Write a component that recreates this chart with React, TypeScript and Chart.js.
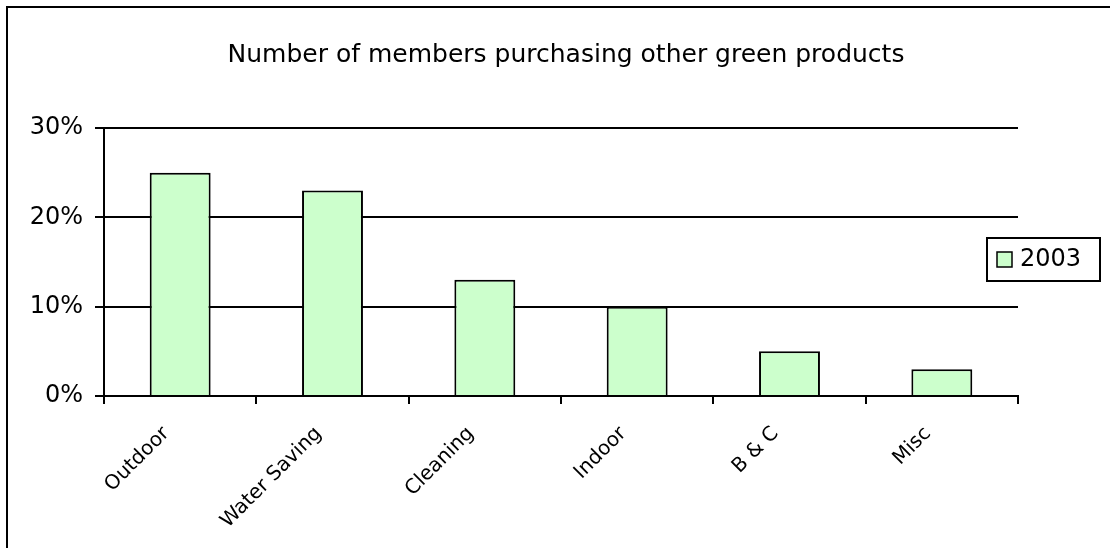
import React, { useEffect, useRef } from "react";
import { Chart, registerables } from "chart.js";

Chart.register(...registerables);

const TITLE = "Number of members purchasing other green products";
const categories = ["Outdoor", "Water Saving", "Cleaning", "Indoor", "B & C", "Misc"];
const seriesName = "2003";
const values = [25, 23, 13, 10, 5, 3];
const yTicks = [0, 10, 20, 30];

const FONT = "'DejaVu Sans', sans-serif";
const FILL = "#CCFFCC";

export default function App() {
  const ref = useRef<HTMLCanvasElement>(null);

  useEffect(() => {
    const canvas = ref.current;
    if (!canvas) return;

    const decor = {
      id: "decor",
      afterDraw(chart: any) {
        const ctx = chart.ctx;
        const ca = chart.chartArea;
        ctx.save();
        // outer frame
        ctx.strokeStyle = "#000";
        ctx.lineWidth = 2;
        ctx.strokeRect(7, 7, 1200, 700);
        // title
        ctx.fillStyle = "#000";
        ctx.font = `25px ${FONT}`;
        ctx.textAlign = "center";
        ctx.textBaseline = "middle";
        ctx.fillText(TITLE, (ca.left + ca.right) / 2 + 5, 55);
        // legend
        const lx = 987, ly = 238, lw = 113, lh = 43;
        ctx.fillStyle = "#fff";
        ctx.fillRect(lx, ly, lw, lh);
        ctx.lineWidth = 2;
        ctx.strokeStyle = "#000";
        ctx.strokeRect(lx, ly, lw, lh);
        ctx.fillStyle = FILL;
        ctx.fillRect(997, 252, 15, 15);
        ctx.lineWidth = 1.5;
        ctx.strokeRect(997, 252, 15, 15);
        ctx.fillStyle = "#000";
        ctx.font = `24px ${FONT}`;
        ctx.textAlign = "left";
        ctx.fillText(seriesName, 1020, 260);
        ctx.restore();
      },
    };

    const chart = new Chart(canvas, {
      type: "bar",
      data: {
        labels: categories,
        datasets: [
          {
            label: seriesName,
            data: values,
            backgroundColor: FILL,
            borderColor: "#000",
            borderWidth: 2,
            barPercentage: 0.4,
            categoryPercentage: 1,
          },
        ],
      },
      options: {
        responsive: false,
        animation: false,
        devicePixelRatio: 1,
        layout: { padding: { top: 128, right: 92, bottom: 0, left: 0 } },
        plugins: {
          legend: { display: false },
          title: { display: false },
          tooltip: { enabled: false },
        },
        scales: {
          x: {
            afterFit(scale: any) {
              scale.height = 152;
            },
            grid: {
              offset: true,
              drawOnChartArea: false,
              color: "#000",
              lineWidth: 2,
              tickLength: 8,
            },
            border: { color: "#000", width: 2 },
            ticks: {
              color: "#000",
              font: { family: FONT, size: 20 },
              minRotation: 45,
              maxRotation: 45,
              padding: 18,
              labelOffset: -14,
            },
          },
          y: {
            min: 0,
            max: 30,
            afterFit(scale: any) {
              scale.width = 104;
            },
            afterBuildTicks(scale: any) {
              scale.ticks = yTicks.map((v) => ({ value: v }));
            },
            grid: {
              color: "#000",
              lineWidth: 2,
              tickLength: 9,
            },
            border: { color: "#000", width: 2 },
            ticks: {
              color: "#000",
              font: { family: FONT, size: 24 },
              padding: 12,
              callback: (v: any) => `${v}%`,
            },
          },
        },
      },
      plugins: [decor],
    });

    return () => chart.destroy();
  }, []);

  return (
    <div style={{ position: "fixed", left: 0, top: 0, width: 1110, height: 548, background: "#fff" }}>
      <canvas ref={ref} width={1110} height={548} style={{ display: "block" }} />
    </div>
  );
}
